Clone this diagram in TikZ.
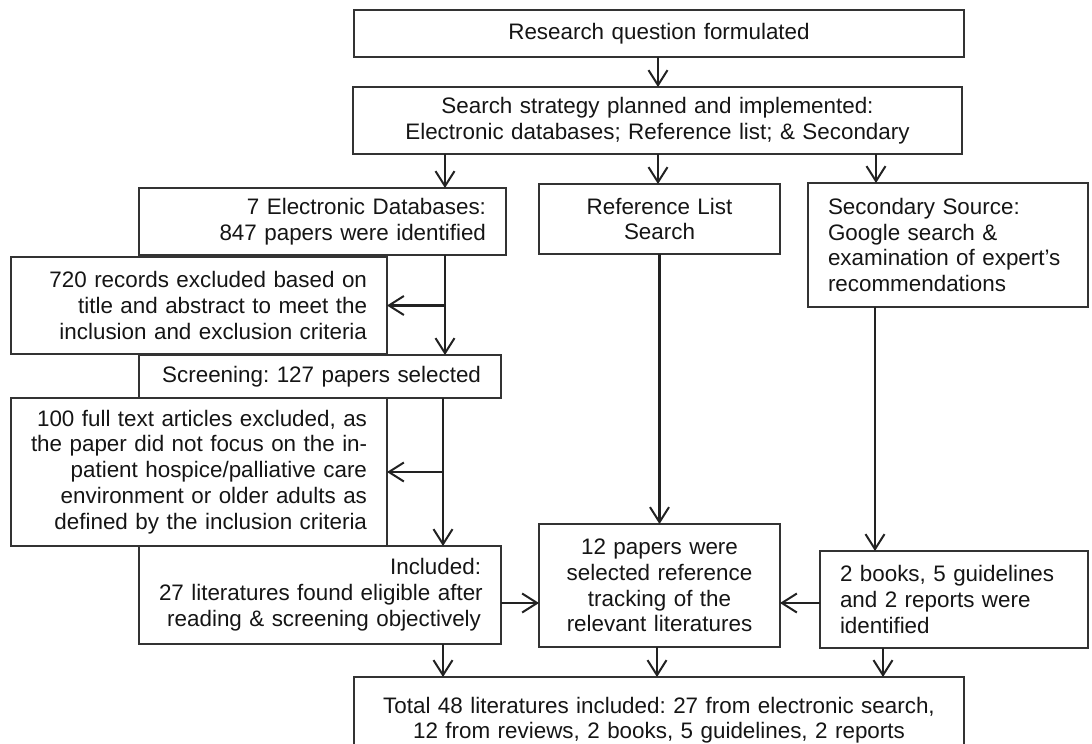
\documentclass[tikz,border=0pt]{standalone}
\usepackage{fontspec}
\setmainfont{Liberation Sans}
\usetikzlibrary{arrows.meta}
\definecolor{boxc}{HTML}{333333}
\definecolor{txt}{HTML}{151515}
\definecolor{arc}{HTML}{222222}
\tikzset{
  box/.style={draw=boxc, line width=1.4pt, inner xsep=20pt, inner ysep=0pt, outer sep=0pt,
    font=\fontsize{22.4}{25.8}\selectfont\frenchspacing, text=txt},
  rbox/.style={box, align=right},
  cbox/.style={box, align=center},
  lbox/.style={box, align=left},
  arr/.style={draw=arc, line width=2.8pt, -{Straight Barb[length=15pt,width=19pt,line width=2pt]}}
}
\begin{document}
\frenchspacing
\begin{tikzpicture}[x=1pt,y=-1pt]
\useasboundingbox (0,0) rectangle (1092,744);
\clip (0,0) rectangle (1092,744);
% boxes
\node[cbox, minimum width=610pt, text width=570pt, minimum height=47pt] (b1) at (659,33.5) {Research question formulated};
\node[cbox, minimum width=609pt, text width=569pt, minimum height=67pt] (b2) at (657.5,120.5) {Search strategy planned and implemented:\\Electronic databases; Reference list; \& Secondary};
\node[rbox, minimum width=367pt, text width=327pt, minimum height=67pt] (edb) at (322.5,221.5) {7 Electronic Databases:\\847 papers were identified};
\node[cbox, minimum width=241pt, text width=201pt, minimum height=70pt] (refl) at (659.5,219) {Reference List\\Search};
\node[lbox, minimum width=280pt, text width=240pt, minimum height=124pt] (sec) at (948,245) {Secondary Source:\\Google search \&\\\mbox{examination of expert’s}\\recommendations};
\node[rbox, minimum width=376pt, text width=336pt, minimum height=97pt] (ex1) at (199,305.5) {\mbox{720 records excluded based on}\\\mbox{title and abstract to meet the}\\\mbox{inclusion and exclusion criteria}};
\node[rbox, minimum width=362pt, text width=322pt, minimum height=43pt] (scr) at (320,376.5) {\mbox{Screening: 127 papers selected}};
\node[rbox, minimum width=376pt, text width=336pt, minimum height=148pt] (ex2) at (199,472) {\mbox{100 full text articles excluded, as}\\\mbox{the paper did not focus on the in-}\\\mbox{patient hospice/palliative care}\\\mbox{environment or older adults as}\\\mbox{defined by the inclusion criteria}};
\node[rbox, minimum width=362pt, text width=322pt, minimum height=98pt] (inc) at (320,595) {Included:\\\mbox{27 literatures found eligible after}\\\mbox{reading \& screening objectively}};
\node[cbox, minimum width=241pt, text width=201pt, minimum height=123pt] (p12) at (659.5,585.5) {12 papers were\\selected reference\\tracking of the\\relevant literatures};
\node[lbox, minimum width=268pt, text width=228pt, minimum height=97pt] (bk) at (954,599.5) {\mbox{2 books, 5 guidelines}\\and 2 reports were\\identified};
\node[cbox, minimum width=610pt, text width=570pt, minimum height=86.5pt] (tot) at (659,720.25) {\mbox{Total 48 literatures included: 27 from electronic search,}\\\mbox{12 from reviews, 2 books, 5 guidelines, 2 reports}};
% helper coordinates
\coordinate (xm) at (658,0);
\coordinate (xa) at (445,0);
\coordinate (xb) at (443,0);
\coordinate (xr) at (876,0);
\coordinate (xs) at (875,0);
\coordinate (xt) at (883,0);
\coordinate (xp) at (657,0);
\coordinate (ya) at (0,603);
% connectors
\draw[arr] (b1.south -| xm) -- (b2.north -| xm);
\draw[arr] (b2.south -| xa) -- (edb.north -| xa);
\draw[arr] (b2.south -| xm) -- (refl.north -| xm);
\draw[arr] (b2.south -| xr) -- (sec.north -| xr);
\draw[arr] (edb.south -| xa) -- (scr.north -| xa);
\draw[arr] (ex1.east -| xa) -- (ex1.east);
\draw[arr] (scr.south -| xb) -- (inc.north -| xb);
\draw[arr] (ex2.east -| xb) -- (ex2.east);
\draw[arr] (refl.south) -- (p12.north);
\draw[arr] (sec.south -| xs) -- (bk.north -| xs);
\draw[arr] (inc.east |- ya) -- (p12.west |- ya);
\draw[arr] (bk.west |- ya) -- (p12.east |- ya);
\draw[arr] (inc.south -| xb) -- (tot.north -| xb);
\draw[arr] (p12.south -| xp) -- (tot.north -| xp);
\draw[arr] (bk.south -| xt) -- (tot.north -| xt);
\end{tikzpicture}
\end{document}
